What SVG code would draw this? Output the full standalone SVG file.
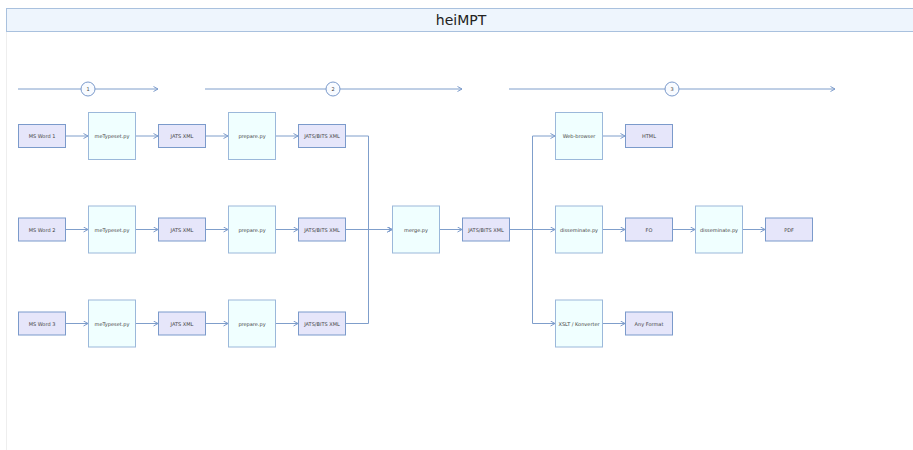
<svg xmlns="http://www.w3.org/2000/svg" width="913" height="450" viewBox="0 0 913 450">
<style>
.sm{fill:#e6e6fa;stroke:#7b9acb;stroke-width:1}
.lg{fill:#f0ffff;stroke:#9bb8da;stroke-width:1}
.t{font-family:"DejaVu Sans",sans-serif;font-size:5px;fill:#444;text-anchor:middle;dominant-baseline:central}
.c{fill:none;stroke:#7f9ecb;stroke-width:1}
.st{fill:#f8fbff;stroke:#7b9acb;stroke-width:1}
</style>
<defs>
<marker id="a" viewBox="0 0 6 6" refX="5.5" refY="3" markerWidth="6" markerHeight="6" orient="auto" markerUnits="userSpaceOnUse">
<path d="M1,0.5 L5.5,3 L1,5.5" fill="none" stroke="#7b9acb" stroke-width="1"/>
</marker>
</defs>
<rect x="0" y="0" width="913" height="450" fill="#fff"/>
<line x1="6.5" y1="31" x2="6.5" y2="450" stroke="#eeeeee" stroke-width="1"/>
<g id="title">
<rect x="6.5" y="8.5" width="907" height="23" fill="#eef5fd" stroke="#a9c1de" stroke-width="1"/>
<text x="461" y="20" font-family="DejaVu Sans,sans-serif" font-size="14" fill="#222" text-anchor="middle" dominant-baseline="central">heiMPT</text>
</g>
<g id="connectors">
<line class="c" x1="18" y1="89" x2="158" y2="89" marker-end="url(#a)"/>
<line class="c" x1="205" y1="89" x2="462" y2="89" marker-end="url(#a)"/>
<line class="c" x1="509" y1="89" x2="835" y2="89" marker-end="url(#a)"/>
<line class="c" x1="65" y1="136" x2="88" y2="136" marker-end="url(#a)"/>
<line class="c" x1="135" y1="136" x2="158" y2="136" marker-end="url(#a)"/>
<line class="c" x1="205" y1="136" x2="228" y2="136" marker-end="url(#a)"/>
<line class="c" x1="275" y1="136" x2="298" y2="136" marker-end="url(#a)"/>
<line class="c" x1="65" y1="229.5" x2="88" y2="229.5" marker-end="url(#a)"/>
<line class="c" x1="135" y1="229.5" x2="158" y2="229.5" marker-end="url(#a)"/>
<line class="c" x1="205" y1="229.5" x2="228" y2="229.5" marker-end="url(#a)"/>
<line class="c" x1="275" y1="229.5" x2="298" y2="229.5" marker-end="url(#a)"/>
<line class="c" x1="65" y1="323.5" x2="88" y2="323.5" marker-end="url(#a)"/>
<line class="c" x1="135" y1="323.5" x2="158" y2="323.5" marker-end="url(#a)"/>
<line class="c" x1="205" y1="323.5" x2="228" y2="323.5" marker-end="url(#a)"/>
<line class="c" x1="275" y1="323.5" x2="298" y2="323.5" marker-end="url(#a)"/>
<path class="c" d="M345,136H368.5V229.5H392" marker-end="url(#a)"/>
<path class="c" d="M345,229.5H392" marker-end="url(#a)"/>
<path class="c" d="M345,323.5H368.5V229.5H392" marker-end="url(#a)"/>
<line class="c" x1="439" y1="229.5" x2="462" y2="229.5" marker-end="url(#a)"/>
<path class="c" d="M509,229.5H532.5V136H555" marker-end="url(#a)"/>
<path class="c" d="M509,229.5H555" marker-end="url(#a)"/>
<path class="c" d="M509,229.5H532.5V323.5H555" marker-end="url(#a)"/>
<line class="c" x1="602" y1="136" x2="625" y2="136" marker-end="url(#a)"/>
<line class="c" x1="602" y1="229.5" x2="625" y2="229.5" marker-end="url(#a)"/>
<line class="c" x1="672" y1="229.5" x2="695" y2="229.5" marker-end="url(#a)"/>
<line class="c" x1="742" y1="229.5" x2="765" y2="229.5" marker-end="url(#a)"/>
<line class="c" x1="602" y1="323.5" x2="625" y2="323.5" marker-end="url(#a)"/>
</g>
<g id="step1"><circle class="st" cx="88" cy="89" r="7"/><text class="t" x="88" y="89">1</text></g>
<g id="step2"><circle class="st" cx="333" cy="89" r="7"/><text class="t" x="333" y="89">2</text></g>
<g id="step3"><circle class="st" cx="672" cy="89" r="7"/><text class="t" x="672" y="89">3</text></g>

<g id="word1"><rect class="sm" x="18.5" y="124.5" width="47" height="23"/><text class="t" x="42" y="136">MS Word 1</text></g>
<g id="mets1"><rect class="lg" x="88.5" y="112.5" width="47" height="47"/><text class="t" x="112" y="136">meTypeset.py</text></g>
<g id="jats1"><rect class="sm" x="158.5" y="124.5" width="47" height="23"/><text class="t" x="182" y="136">JATS XML</text></g>
<g id="prep1"><rect class="lg" x="228.5" y="112.5" width="47" height="47"/><text class="t" x="252" y="136">prepare.py</text></g>
<g id="bits1"><rect class="sm" x="298.5" y="124.5" width="47" height="23"/><text class="t" x="322" y="136">JATS/BITS XML</text></g>

<g id="word2"><rect class="sm" x="18.5" y="218" width="47" height="23"/><text class="t" x="42" y="229.5">MS Word 2</text></g>
<g id="mets2"><rect class="lg" x="88.5" y="206" width="47" height="47"/><text class="t" x="112" y="229.5">meTypeset.py</text></g>
<g id="jats2"><rect class="sm" x="158.5" y="218" width="47" height="23"/><text class="t" x="182" y="229.5">JATS XML</text></g>
<g id="prep2"><rect class="lg" x="228.5" y="206" width="47" height="47"/><text class="t" x="252" y="229.5">prepare.py</text></g>
<g id="bits2"><rect class="sm" x="298.5" y="218" width="47" height="23"/><text class="t" x="322" y="229.5">JATS/BITS XML</text></g>

<g id="word3"><rect class="sm" x="18.5" y="312" width="47" height="23"/><text class="t" x="42" y="323.5">MS Word 3</text></g>
<g id="mets3"><rect class="lg" x="88.5" y="300" width="47" height="47"/><text class="t" x="112" y="323.5">meTypeset.py</text></g>
<g id="jats3"><rect class="sm" x="158.5" y="312" width="47" height="23"/><text class="t" x="182" y="323.5">JATS XML</text></g>
<g id="prep3"><rect class="lg" x="228.5" y="300" width="47" height="47"/><text class="t" x="252" y="323.5">prepare.py</text></g>
<g id="bits3"><rect class="sm" x="298.5" y="312" width="47" height="23"/><text class="t" x="322" y="323.5">JATS/BITS XML</text></g>

<g id="merge"><rect class="lg" x="392.5" y="206" width="47" height="47"/><text class="t" x="416" y="229.5">merge.py</text></g>
<g id="bitsm"><rect class="sm" x="462.5" y="218" width="47" height="23"/><text class="t" x="486" y="229.5">JATS/BITS XML</text></g>

<g id="web"><rect class="lg" x="555.5" y="112.5" width="47" height="47"/><text class="t" x="579" y="136">Web-browser</text></g>
<g id="html"><rect class="sm" x="625.5" y="124.5" width="47" height="23"/><text class="t" x="649" y="136">HTML</text></g>
<g id="diss1"><rect class="lg" x="555.5" y="206" width="47" height="47"/><text class="t" x="579" y="229.5">disseminate.py</text></g>
<g id="fo"><rect class="sm" x="625.5" y="218" width="47" height="23"/><text class="t" x="649" y="229.5">FO</text></g>
<g id="diss2"><rect class="lg" x="695.5" y="206" width="47" height="47"/><text class="t" x="719" y="229.5">disseminate.py</text></g>
<g id="pdf"><rect class="sm" x="765.5" y="218" width="47" height="23"/><text class="t" x="789" y="229.5">PDF</text></g>
<g id="xslt"><rect class="lg" x="555.5" y="300" width="47" height="47"/><text class="t" x="579" y="323.5">XSLT / Konverter</text></g>
<g id="any"><rect class="sm" x="625.5" y="312" width="47" height="23"/><text class="t" x="649" y="323.5">Any Format</text></g>
</svg>
